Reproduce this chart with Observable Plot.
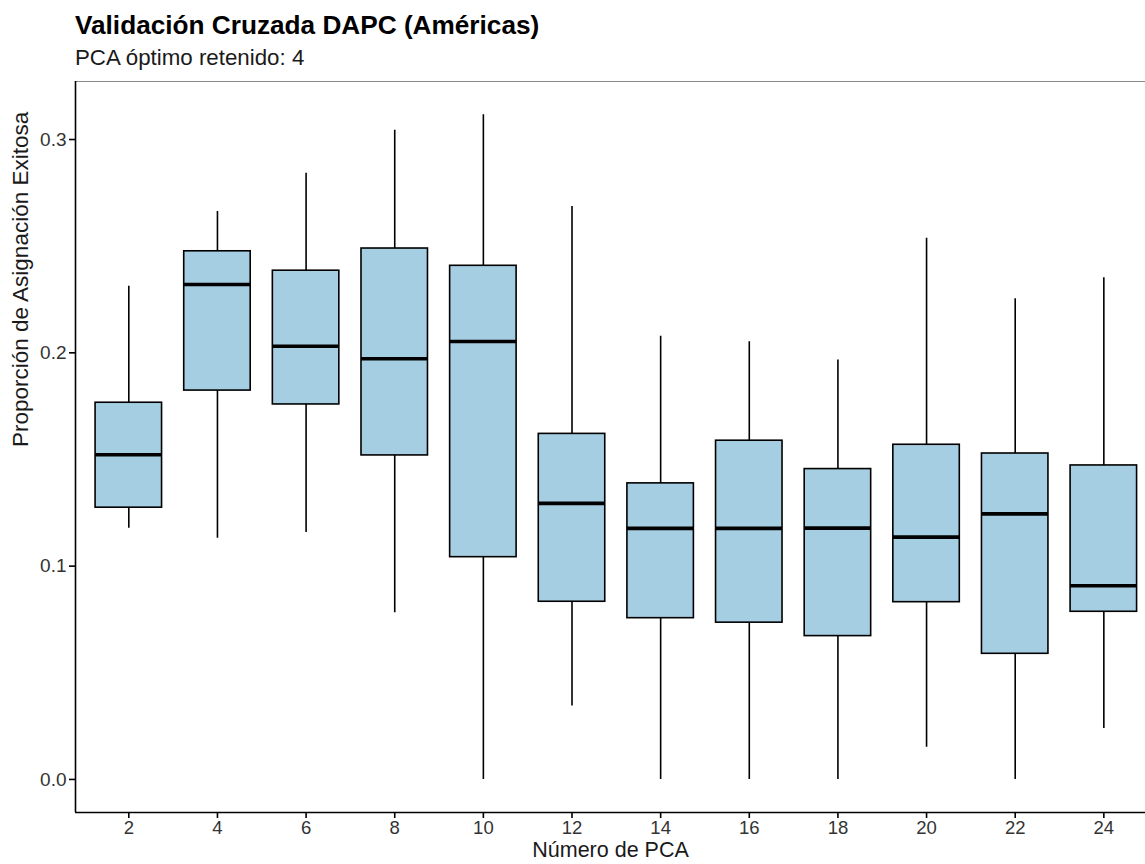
<!DOCTYPE html>
<html>
<head>
<meta charset="utf-8">
<script src="https://cdn.jsdelivr.net/npm/d3@7"></script>
<script src="https://cdn.jsdelivr.net/npm/@observablehq/plot@0.6"></script>
<style>
  html, body { margin: 0; padding: 0; background: #fff; }
  #wrap { position: relative; width: 1145px; height: 864px; overflow: hidden; font-family: "Liberation Sans", Arial, Helvetica, sans-serif; }
  #title { position: absolute; left: 75px; top: 10px; font-size: 26.2px; font-weight: bold; color: #000; white-space: nowrap; }
  #subtitle { position: absolute; left: 75px; top: 45px; font-size: 22.3px; color: #1a1a1a; white-space: nowrap; }
  #chart { position: absolute; left: 0; top: 78px; }
</style>
</head>
<body>
<div id="wrap">
  <div id="title">Validación Cruzada DAPC (Américas)</div>
  <div id="subtitle">PCA óptimo retenido: 4</div>
  <div id="chart"></div>
</div>
<script>
// Data
const pcs         = [2, 4, 6, 8, 10, 12, 14, 16, 18, 20, 22, 24];
const whiskerLow  = [0.1178, 0.1131, 0.1158, 0.0781, 0.0000, 0.0344, 0.0000, 0.0000, 0.0000, 0.0151, 0.0000, 0.0239];
const q1          = [0.1274, 0.1823, 0.1758, 0.1519, 0.1042, 0.0833, 0.0756, 0.0735, 0.0672, 0.0831, 0.0589, 0.0786];
const medians     = [0.1522, 0.2320, 0.2031, 0.1972, 0.2053, 0.1294, 0.1177, 0.1177, 0.1178, 0.1136, 0.1245, 0.0908];
const q3          = [0.1766, 0.2476, 0.2385, 0.2489, 0.2408, 0.1620, 0.1388, 0.1588, 0.1455, 0.1569, 0.1528, 0.1472];
const whiskerHigh = [0.2312, 0.2663, 0.2842, 0.3044, 0.3116, 0.2686, 0.2078, 0.2052, 0.1966, 0.2537, 0.2253, 0.2352];

const yTicks = [0, 0.1, 0.2, 0.3];
const xTicks = [2, 4, 6, 8, 10, 12, 14, 16, 18, 20, 22, 24];

const data = pcs.map((pc, i) => ({
  pc, lo: whiskerLow[i], q1: q1[i], med: medians[i], q3: q3[i], hi: whiskerHigh[i]
}));

const halfWidth = 0.75;
const xDomain = [0.797, 24.94];
const yDomain = [-0.0155, 0.3272];
const ink = "#000";
const lw = 1.6;

const chart = Plot.plot({
  width: 1145,
  height: 786,
  marginTop: 3,
  marginBottom: 52,
  marginLeft: 75,
  marginRight: 0,
  style: { fontFamily: "'Liberation Sans', Arial, Helvetica, sans-serif", background: "#fff" },
  x: { type: "linear", domain: xDomain },
  y: { type: "linear", domain: yDomain },
  marks: [
    Plot.ruleY([yDomain[1]], { stroke: "#8a8a8a", strokeWidth: 1.2 }),
    Plot.ruleX(data, { x: "pc", y1: "lo", y2: "hi", stroke: ink, strokeWidth: lw }),
    Plot.rect(data, {
      x1: d => d.pc - halfWidth, x2: d => d.pc + halfWidth,
      y1: "q1", y2: "q3",
      fill: "#a6cee3", stroke: ink, strokeWidth: lw
    }),
    Plot.ruleY(data, {
      y: "med", x1: d => d.pc - halfWidth, x2: d => d.pc + halfWidth,
      stroke: ink, strokeWidth: 3.6
    }),
    Plot.ruleX([xDomain[0]], { stroke: ink, strokeWidth: lw }),
    Plot.ruleY([yDomain[0]], { stroke: ink, strokeWidth: lw }),
    Plot.axisY({
      ticks: yTicks, tickFormat: d3.format(".1f"), tickSize: 6, tickPadding: 3,
      fontSize: 19, color: "#333", stroke: ink, strokeWidth: lw, label: null
    }),
    Plot.axisX({
      ticks: xTicks, tickFormat: d3.format("d"), tickSize: 6, tickPadding: 2,
      fontSize: 18.5, color: "#333", stroke: ink, strokeWidth: lw, label: null
    }),
    Plot.text(["Proporción de Asignación Exitosa"], {
      frameAnchor: "left", rotate: -90, dx: -55, fontSize: 22.5, fill: "#1a1a1a"
    }),
    Plot.text(["Número de PCA"], {
      frameAnchor: "bottom", dy: 44.5, fontSize: 21.5, fill: "#1a1a1a"
    })
  ]
});

document.getElementById("chart").appendChild(chart);
</script>
</body>
</html>
